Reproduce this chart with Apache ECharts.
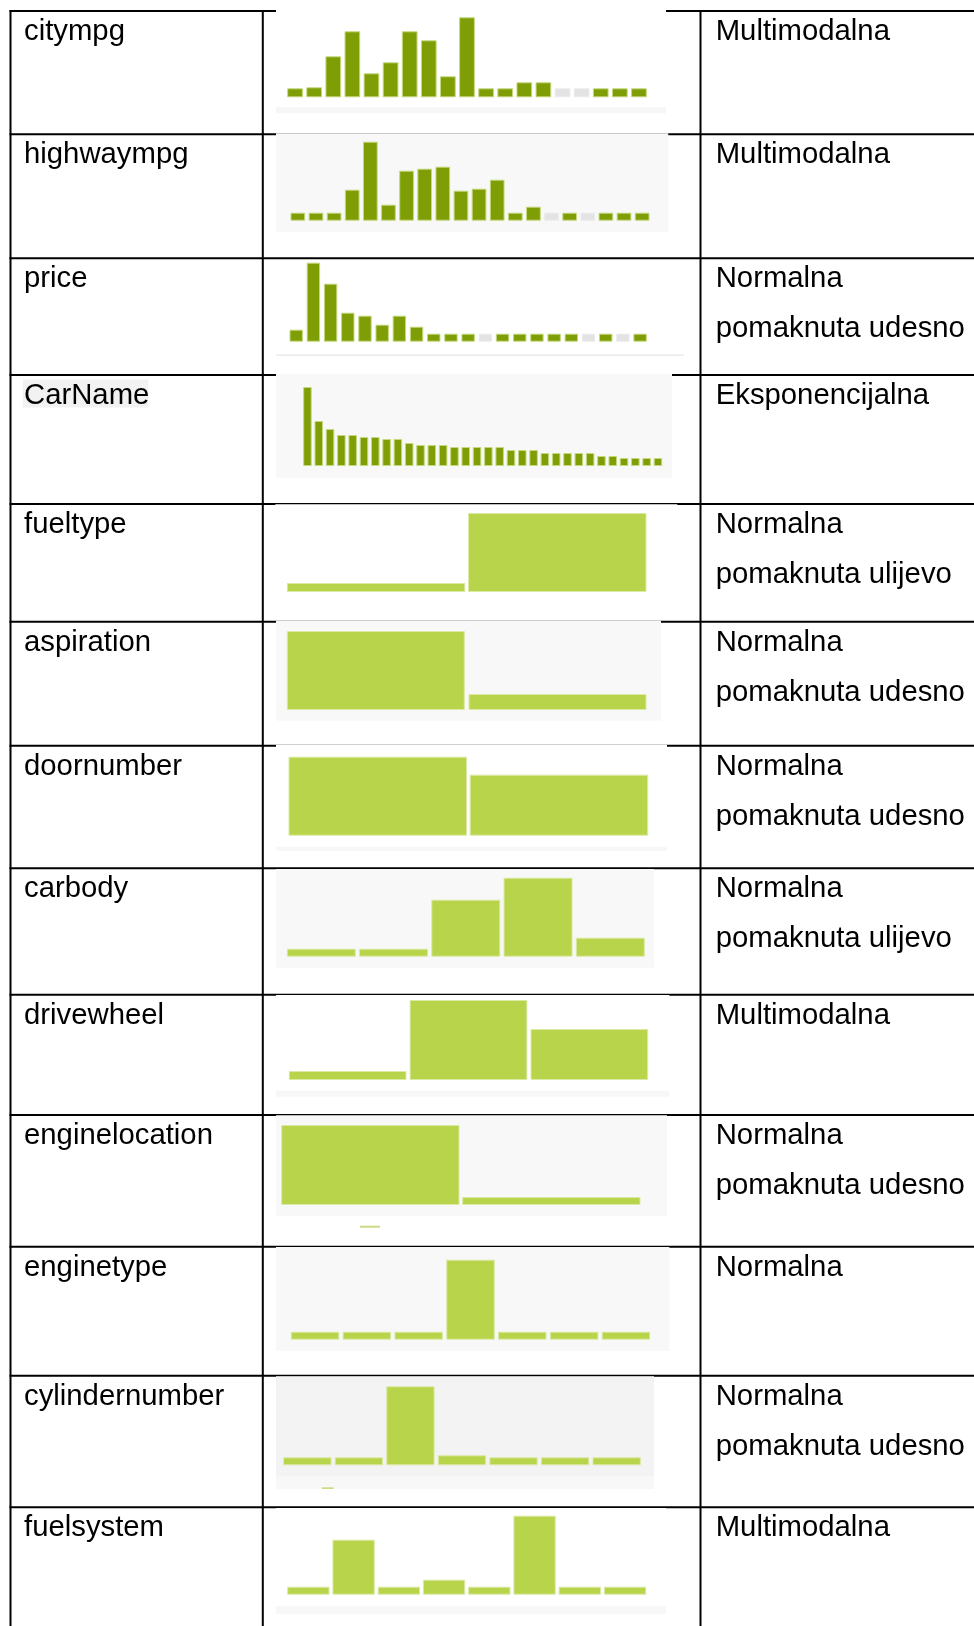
<!DOCTYPE html>
<html><head><meta charset="utf-8">
<script src="https://cdn.jsdelivr.net/npm/echarts@6/dist/echarts.min.js"></script>
<style>html,body{margin:0;padding:0;background:#fff}#c{width:974px;height:1626px}</style>
</head><body><div id="c"></div>
<script>
// ---------- DATA (bar heights, relative units; tallest ≈ 80) ----------
const variableNames = ['citympg','highwaympg','price','CarName','fueltype','aspiration','doornumber','carbody','drivewheel','enginelocation','enginetype','cylindernumber','fuelsystem'];
const distributionText = [
  ['Multimodalna'],
  ['Multimodalna'],
  ['Normalna','pomaknuta udesno'],
  ['Eksponencijalna'],
  ['Normalna','pomaknuta ulijevo'],
  ['Normalna','pomaknuta udesno'],
  ['Normalna','pomaknuta udesno'],
  ['Normalna','pomaknuta ulijevo'],
  ['Multimodalna'],
  ['Normalna','pomaknuta udesno'],
  ['Normalna'],
  ['Normalna','pomaknuta udesno'],
  ['Multimodalna']
];
const citympg        = [9,10,41,66,24,35,66,57,21,80,9,9,15,15,9,9,9,9,9];
const highwaympg     = [8,8,8,31,79,16,50,52,54,30,32,41,8,14,8,8,8,8,8,8];
const price          = [12,79,58,29,26,17,26,15,8,8,8,8,8,8,8,8,8,8,8,8,8];
const carName        = [79,45,37,31,31,29,29,27,27,23,21,21,21,19,19,19,19,19,16,16,16,13,13,13,13,13,10,10,8,8,8,8];
const fueltype       = [9,79];
const aspiration     = [79,16];
const doornumber     = [79,61];
const carbody        = [8,8,57,79,19];
const drivewheel     = [9,80,51];
const enginelocation = [80,8];
const enginetype     = [8,8,8,80,8,8,8];
const cylindernumber = [8,8,79,10,8,8,8];
const fuelsystem     = [8,55,8,15,8,79,8,8];
// empty bins (drawn in grey)
const citympgEmpty    = [14,15];
const highwaympgEmpty = [14,16];
const priceEmpty      = [11,17,19];

const seriesValues = [citympg,highwaympg,price,carName,fueltype,aspiration,doornumber,carbody,drivewheel,enginelocation,enginetype,cylindernumber,fuelsystem];
const emptyBins = [citympgEmpty,highwaympgEmpty,priceEmpty,[],[],[],[],[],[],[],[],[],[]];

// ---------- LAYOUT ----------
const LAYOUT = {
  lineY: [10,133.3,257.3,374,503,620.7,744.7,867.3,993.7,1114,1245.7,1374.7,1506.3],
  colX: [9.5,261.8,699.5],
  bars: [
    {L:286.7,R:647.3,bw:16.7,base:97.3},
    {L:290,R:650,bw:15.7,base:220.7},
    {L:289,R:647.3,bw:14.4,base:341.7},
    {L:302.7,R:662.7,bw:9.5,base:466},
    {L:286.3,R:647,bw:179.5,base:592},
    {L:286.3,R:647,bw:179,base:710},
    {L:288,R:648.7,bw:179.5,base:835.7},
    {L:286.3,R:645.3,bw:70,base:956.7},
    {L:288.3,R:648.7,bw:118.7,base:1080},
    {L:280.7,R:641,bw:179.3,base:1205},
    {L:290.3,R:650.7,bw:49.5,base:1339.7},
    {L:282.7,R:641.3,bw:49.3,base:1465.3},
    {L:286.7,R:646.7,bw:43.3,base:1594.7}
  ],
  imgBg: [
    [276,10,390,103.3,'#ffffff'],[276,107.3,390,6,'#f6f6f6'],
    [276,133.3,392.3,99,'#f8f8f8'],
    [276,354.3,408,1.6,'#ececec'],
    [276,374,396,103.7,'#f8f8f8'],
    [275.3,504.2,402,95,'#ffffff'],
    [276,620.7,385,100,'#f8f8f8'],
    [276,744.7,391,106.3,'#ffffff'],[276,846.7,391,4.3,'#f7f7f7'],
    [276,869,378,98.7,'#f8f8f8'],
    [276,995,393.3,101.7,'#ffffff'],[276,1090.7,393.3,6,'#f7f7f7'],
    [276,1115.3,391,100.7,'#f8f8f8'],
    [276,1246.9,393.3,104,'#f8f8f8'],
    [276,1376.3,378,100.4,'#f3f3f3'],[276,1476.7,378,12.3,'#f8f8f8'],
    [276,1508,390,106,'#ffffff'],[276,1606,390,8,'#f7f7f7']
  ],
  dashes: [[360,1225.7,20,2],[322,1487.3,11.7,1.7]],
  yMax: 80
};
const FONT = '29.3px "Liberation Sans", Arial, sans-serif';

const chart = echarts.init(document.getElementById('c'), null, {renderer:'canvas'});
const grids = [], xAxes = [], yAxes = [], series = [], graphics = [];

seriesValues.forEach((vals, i) => {
  const b = LAYOUT.bars[i];
  const n = vals.length;
  const cw = n > 1 ? (b.R - b.L - b.bw) / (n - 1) : (b.R - b.L);
  const left = b.L - (cw - b.bw) / 2;
  grids.push({left: left, top: b.base - LAYOUT.yMax, width: n * cw, height: LAYOUT.yMax, show:false});
  xAxes.push({type:'category', gridIndex:i, data: vals.map((_, k) => String(k + 1)), show:false, boundaryGap:true});
  yAxes.push({type:'value', gridIndex:i, min:0, max:LAYOUT.yMax, show:false});
  const dark = i < 4;
  const base = dark ? {color:'#7f9d04', borderColor:'#c4d87c', borderWidth:1}
                    : {color:'#b8d44b', borderColor:'#dbe9a4', borderWidth:1};
  series.push({
    type:'bar', xAxisIndex:i, yAxisIndex:i, barWidth: b.bw - 1, silent:true,
    itemStyle: base,
    data: vals.map((v, k) => emptyBins[i].indexOf(k) >= 0
      ? {value:v, itemStyle:{color:'#e3e3e3', borderColor:'#ebebeb', borderWidth:1}}
      : v)
  });
});

// table lines
LAYOUT.lineY.forEach(y => graphics.push({type:'rect', z:0, shape:{x:9.5, y:y, width:974, height:2}, style:{fill:'#000'}}));
LAYOUT.colX.forEach(x => graphics.push({type:'rect', z:0, shape:{x:x, y:10, width:2, height:1626}, style:{fill:'#000'}}));
// image backgrounds in the middle column
LAYOUT.imgBg.forEach(r => graphics.push({type:'rect', z:1, shape:{x:r[0], y:r[1], width:r[2], height:r[3]}, style:{fill:r[4]}}));
LAYOUT.dashes.forEach(r => graphics.push({type:'rect', z:1, shape:{x:r[0], y:r[1], width:r[2], height:r[3]}, style:{fill:'#c9dc85'}}));
// CarName highlight
graphics.push({type:'rect', z:1, shape:{x:22.8, y:379.6, width:125.5, height:28}, style:{fill:'#f2f2f2'}});

// texts
variableNames.forEach((name, i) => {
  const y0 = LAYOUT.lineY[i] + 1 + 21;
  graphics.push({type:'text', z:5, style:{text:name, x:24, y:y0, font:FONT, fill:'#000', textAlign:'left', textVerticalAlign:'middle', align:'left', verticalAlign:'middle'}});
  distributionText[i].forEach((t, k) => {
    graphics.push({type:'text', z:5, style:{text:t, x:715.7, y:y0 + k * 50, font:FONT, fill:'#000', textAlign:'left', textVerticalAlign:'middle', align:'left', verticalAlign:'middle'}});
  });
});

chart.setOption({
  animation:false,
  backgroundColor:'#ffffff',
  grid: grids, xAxis: xAxes, yAxis: yAxes, series: series,
  graphic: {elements: graphics}
});
</script></body></html>
